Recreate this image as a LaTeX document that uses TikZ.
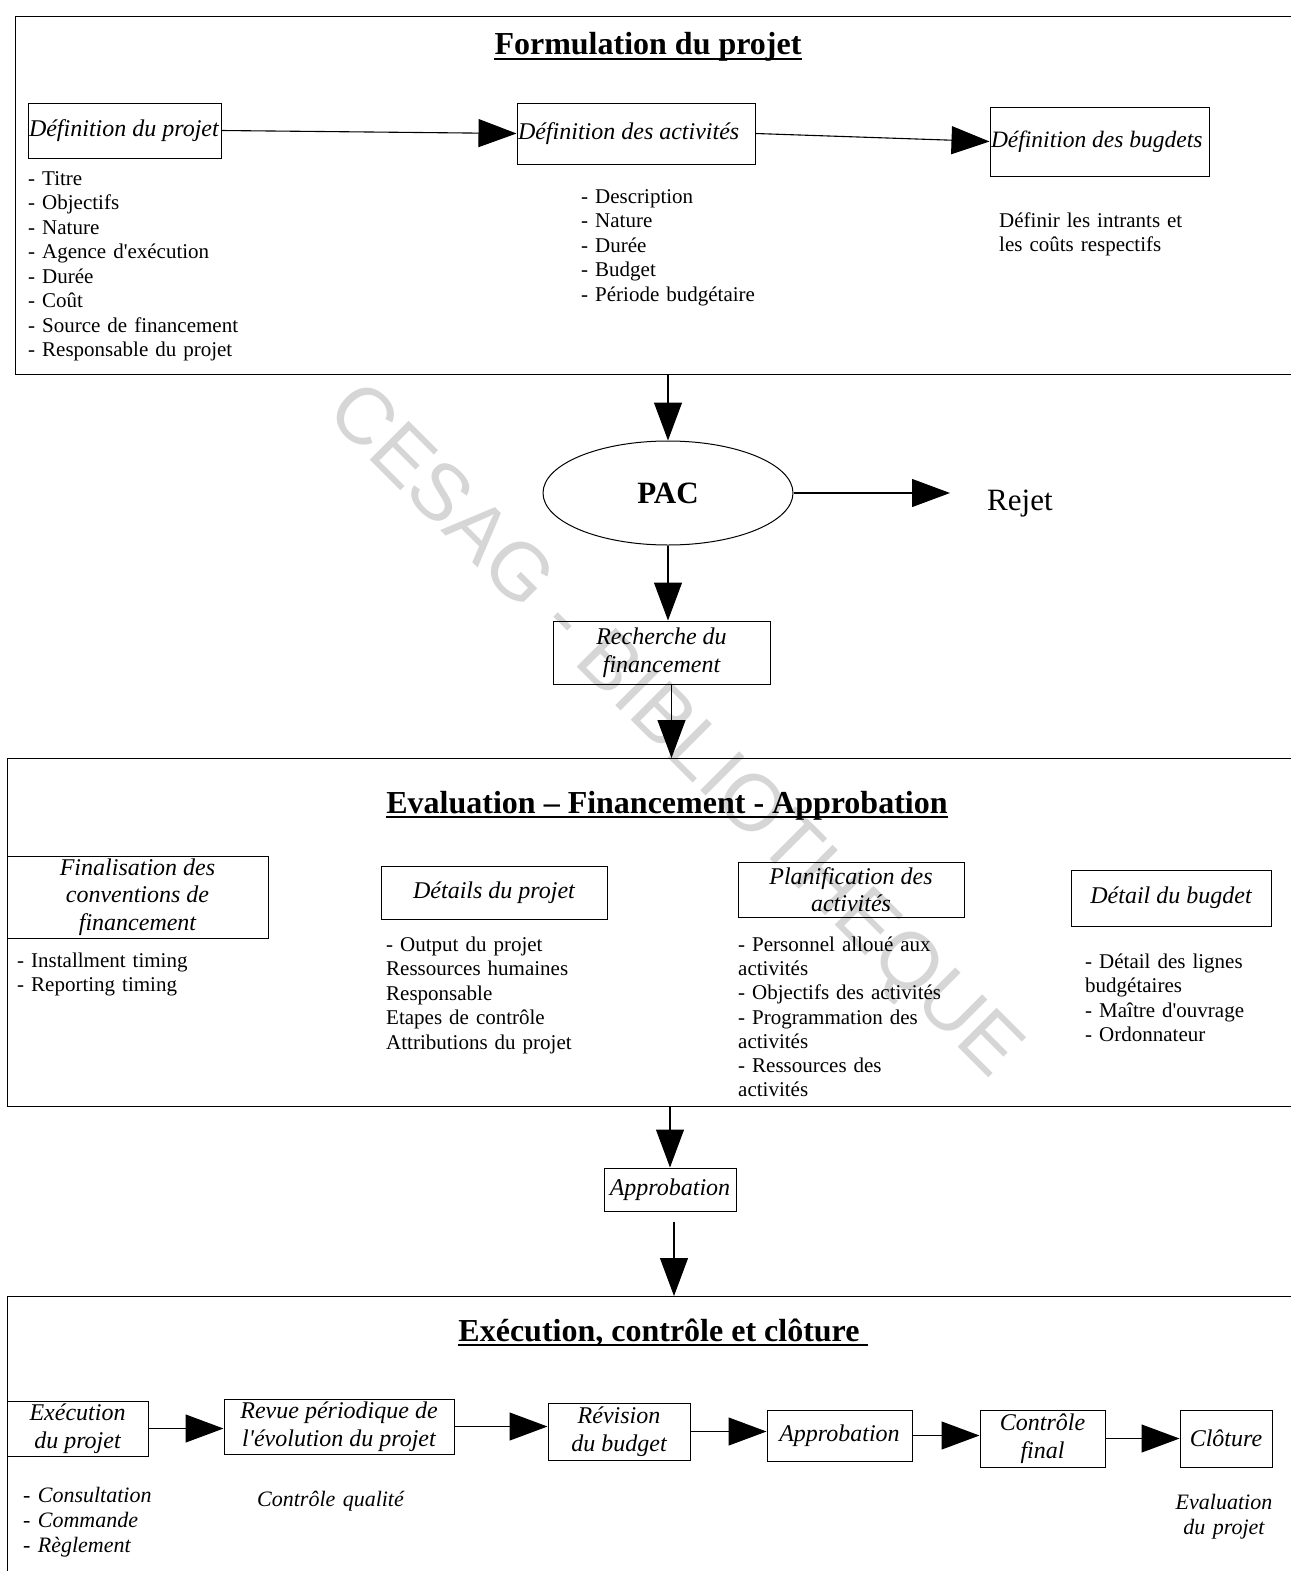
\documentclass[tikz,border=0pt]{standalone}
\usepackage{fontspec}
\setmainfont{Liberation Serif}
\newfontfamily\wmfont{Liberation Sans}
\usetikzlibrary{arrows.meta,shapes.geometric}
\newcommand\aq{\textquotesingle}
\begin{document}
\begin{tikzpicture}[x=1pt,y=-1pt,
  sec/.style={draw,line width=1.1pt,inner sep=0pt,anchor=north west,minimum width=1300pt},
  bx/.style={draw,line width=1pt,inner sep=1pt,align=center,font=\fontsize{24}{27.5}\selectfont\itshape},
  lst/.style={anchor=base west,inner sep=0pt,text width=300pt,align=left,font=\fontsize{21}{24.5}\selectfont},
  ilst/.style={anchor=base west,inner sep=0pt,text width=300pt,align=left,font=\fontsize{22}{25}\selectfont\itshape},
  ttl/.style={anchor=base,inner sep=0pt,font=\fontsize{32}{36}\selectfont\bfseries},
  arr/.style={line width=1.1pt,-{Triangle[length=38pt,width=28pt]}},
  ul/.style={line width=1.8pt}
]
\useasboundingbox (0,0) rectangle (1290,1571);
\fill[white] (0,0) rectangle (1290,1571);

% watermark
\node[rotate=-45,inner sep=0pt,text=black!16,font=\fontsize{80}{90}\selectfont\wmfont] (wm) at (672,733) {CESAG - BIBLIOTHEQUE};

% section frames
\node[sec,minimum height=358pt] (S1) at (15,16) {};
\node[sec,minimum height=348pt] (S2) at (7,758) {};
\node[sec,minimum height=300pt] (S3) at (7,1296) {};

% ---------- Formulation du projet ----------
\node[ttl] (t1) at (648,55) {Formulation du projet};
\draw[ul] ([yshift=-4pt]t1.base west) -- ([yshift=-4pt]t1.base east);

\node[bx,minimum width=193pt,minimum height=55pt] (dp) at (124.5,130.5) {\makebox[191pt][l]{Définition du projet}};
\node[bx,minimum width=238pt,minimum height=61pt] (da) at (636,133.5) {\makebox[236pt][l]{Définition des activités}};
\node[bx,minimum width=219pt,minimum height=69pt] (db) at (1099.5,141.5) {\makebox[217pt][l]{\fontsize{23.5}{27}\selectfont Définition des bugdets}};
\draw[arr] (dp.east) -- (da.west);
\draw[arr] (da.east) -- (db.west);

\node[lst] (ldp) at (28,185) {- Titre\\- Objectifs\\- Nature\\- Agence d\aq exécution\\- Durée\\- Coût\\- Source de financement\\- Responsable du projet};
\node[lst] (lda) at (581,203) {- Description\\- Nature\\- Durée\\- Budget\\- Période budgétaire};
\node[lst] (ldb) at (999,227) {Définir les intrants et\\les coûts respectifs};

% ---------- PAC ----------
\node[ellipse,draw,line width=1pt,minimum width=250pt,minimum height=104pt,inner sep=0pt,font=\fontsize{31}{36}\selectfont\bfseries] (pac) at (668,493) {PAC};
\node[anchor=west,inner sep=0pt,font=\fontsize{31}{36}\selectfont] (rejet) at (987,504) {Rejet};
\draw[arr] (pac.north |- S1.south) -- (pac.north);
\draw[arr,shorten >=37pt] (pac.east) -- (pac.east -| rejet.west);

\node[bx,minimum width=217pt,minimum height=63pt] (rech) at (661.5,652.5) {Recherche du\\financement};
\draw[arr] (pac.south) -- (pac.south |- rech.north);
\coordinate (r1) at ([xshift=10pt]rech.south);
\draw[arr] (r1) -- (r1 |- S2.north);

% ---------- Evaluation ----------
\node[ttl] (t2) at (667,813) {Evaluation -- Financement - Approbation};
\draw[ul] ([yshift=-4pt]t2.base west) -- ([yshift=-4pt]t2.base east);

\node[bx,minimum width=261pt,minimum height=82pt] (fin) at (137.5,897) {Finalisation des\\conventions de\\financement};
\node[bx,minimum width=226pt,minimum height=53pt] (det) at (494,892.5) {Détails du projet};
\node[bx,minimum width=226pt,minimum height=55pt] (plan) at (851,889.5) {Planification des\\activités};
\node[bx,minimum width=200pt,minimum height=56pt] (bud) at (1171,898) {Détail du bugdet};

\node[lst] (lfin) at (17,967) {- Installment timing\\- Reporting timing};
\node[lst] (ldet) at (386,951) {- Output du projet\\Ressources humaines\\Responsable\\Etapes de contrôle\\Attributions du projet};
\node[lst,font=\fontsize{21}{24.33}\selectfont] (lplan) at (738,951) {- Personnel alloué aux\\activités\\- Objectifs des activités\\- Programmation des\\activités\\- Ressources des\\activités};
\node[lst] (lbud) at (1085,968) {- Détail des lignes\\budgétaires\\- Maître d\aq ouvrage\\- Ordonnateur};

\node[bx,minimum width=132pt,minimum height=43pt] (appr) at (670,1189.5) {Approbation};
\draw[arr] (appr.north |- S2.south) -- (appr.north);
\coordinate (a1) at ([xshift=4pt,yshift=-10pt]appr.south);
\draw[arr] (a1) -- (a1 |- S3.north);

% ---------- Execution ----------
\node[ttl] (t3) at (659,1341) {Exécution, contrôle et clôture};
\draw[ul] ([yshift=-4pt]t3.base west) -- ([xshift=8pt,yshift=-4pt]t3.base east);

\node[bx,minimum width=141pt,minimum height=55pt] (e1) at (77.5,1428.5) {Exécution\\du projet};
\node[bx,minimum width=230pt,minimum height=55pt] (e2) at (339,1426.5) {Revue périodique de\\l\aq évolution du projet};
\node[bx,minimum width=142pt,minimum height=57pt] (e3) at (619,1431.5) {Révision\\du budget};
\node[bx,minimum width=145pt,minimum height=51pt] (e4) at (839.5,1435.5) {Approbation};
\node[bx,minimum width=125pt,minimum height=57pt] (e5) at (1042.5,1438.5) {Contrôle\\final};
\node[bx,minimum width=92pt,minimum height=57pt] (e6) at (1226,1438.5) {Clôture};
\draw[arr] (e1.east) -- (e1.east -| e2.west);
\draw[arr] (e2.east) -- (e2.east -| e3.west);
\draw[arr] (e3.east) -- (e3.east -| e4.west);
\draw[arr] (e4.east) -- (e4.east -| e5.west);
\draw[arr] (e5.east) -- (e5.east -| e6.west);

\node[ilst] (le1) at (23,1502) {- Consultation\\- Commande\\- Règlement};
\node[ilst] (le2) at (257,1506) {Contrôle qualité};
\node[ilst,anchor=base,text width=150pt,align=center] (le6) at (1224,1509) {Evaluation\\du projet};
\end{tikzpicture}
\end{document}
